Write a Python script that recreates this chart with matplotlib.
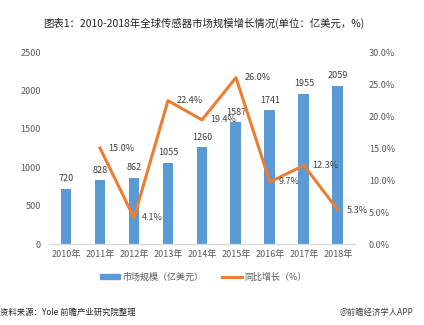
import matplotlib
matplotlib.use("Agg")
import matplotlib.pyplot as plt
from matplotlib.lines import Line2D
from matplotlib.patches import Patch

plt.rcParams['font.family'] = ['Noto Sans CJK SC', 'DejaVu Sans']

years = ["2010年", "2011年", "2012年", "2013年", "2014年", "2015年", "2016年", "2017年", "2018年"]
market = [720, 828, 862, 1055, 1260, 1587, 1741, 1955, 2059]
growth_years = ["2011年", "2012年", "2013年", "2014年", "2015年", "2016年", "2017年", "2018年"]
growth = [15.0, 4.1, 22.4, 19.4, 26.0, 9.7, 12.3, 5.3]

bar_color = "#5B9BD5"
line_color = "#ED7D31"
tick_color = "#595959"

fig = plt.figure(figsize=(4.24, 3.25), dpi=100)
ax = fig.add_axes([0.1156, 0.249, 0.7214, 0.591])
ax2 = ax.twinx()

x = list(range(len(years)))
ax.bar(x, market, width=0.32, color=bar_color, zorder=2)
for xi, v in zip(x, market):
    ax.annotate(f"{v}", (xi, v), xytext=(0, 4), textcoords="offset points",
                ha="center", va="bottom", fontsize=6.5, color="#404040")

ax.set_ylim(0, 2500)
ax.set_yticks(range(0, 2501, 500))
ax.set_xlim(-0.5, len(years) - 0.5)
ax.set_xticks(x)
ax.set_xticklabels(years)

gx = [years.index(y) for y in growth_years]
ax2.plot(gx, growth, color=line_color, linewidth=2.2, zorder=3)
for xi, v in zip(gx, growth):
    ax2.annotate(f"{v:.1f}%", (xi, v), xytext=(6, 0), textcoords="offset points",
                 ha="left", va="center", fontsize=6.5, color="#404040")
ax2.set_ylim(0, 30)
ax2.set_yticks(range(0, 31, 5))
ax2.set_yticklabels([f"{t:.1f}%" for t in range(0, 31, 5)])

for a in (ax, ax2):
    for s in ("top", "left", "right"):
        a.spines[s].set_visible(False)
    a.spines["bottom"].set_color("#D9D9D9")
    a.tick_params(axis="both", length=0, labelsize=6.5, colors=tick_color)
ax.tick_params(axis="y", pad=6)
ax2.tick_params(axis="y", pad=10)
ax.tick_params(axis="x", pad=4)

fig.text(0.48, 0.928, "图表1：2010-2018年全球传感器市场规模增长情况(单位：亿美元，%)",
         ha="center", va="center", fontsize=7.5, color="#262626")

handles = [Patch(color=bar_color, label="市场规模（亿美元）"),
           Line2D([0], [0], color=line_color, linewidth=2.2, label="同比增长（%）")]
fig.legend(handles=handles, loc="center", bbox_to_anchor=(0.48, 0.148), ncol=2,
           frameon=False, fontsize=6.5, handlelength=2.2, handleheight=0.5,
           handletextpad=0.3, columnspacing=2.0, labelcolor=tick_color)

fig.text(0.0, 0.04, "资料来源：Yole 前瞻产业研究院整理", ha="left", va="center",
         fontsize=6, style="italic", color="#262626")
fig.text(0.975, 0.04, "@前瞻经济学人APP", ha="right", va="center",
         fontsize=6, color="#404040")

fig.savefig("out.png", dpi=100)
